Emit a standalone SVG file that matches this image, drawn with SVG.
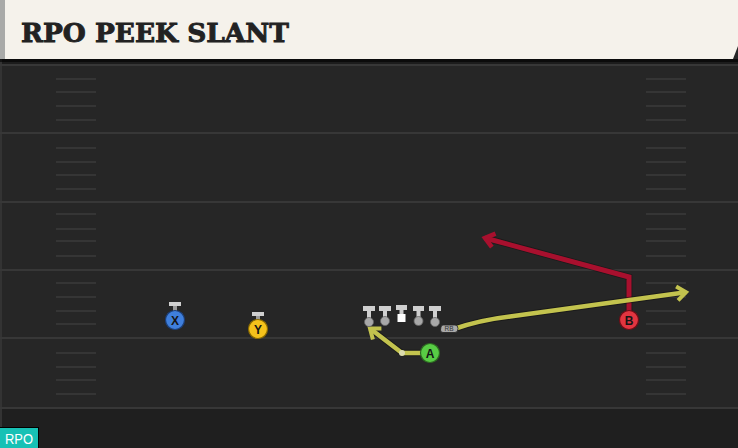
<svg xmlns="http://www.w3.org/2000/svg" width="738" height="448" viewBox="0 0 738 448">
<defs>
<style>
.yard{stroke:#373737;stroke-width:2}
.hash{stroke:#353535;stroke-width:2}
.ltr{font-family:"Liberation Sans",Arial,sans-serif;font-weight:bold;font-size:12px;fill:#151515;text-anchor:middle}
.bar{fill:#cfcfcf}
.lm{fill:#a8a8a8;stroke:#666;stroke-width:0.8}
.rt-y{fill:none;stroke:#c3c34e;stroke-width:4.5;stroke-linejoin:miter}
.rt-r{fill:none;stroke:#a8102e;stroke-width:5;stroke-linejoin:miter}
.under{fill:none;stroke:#111;stroke-width:6.5;opacity:0.55}
.title{font-family:"DejaVu Serif",serif;font-weight:bold;font-size:26px;fill:#222;stroke:#222;stroke-width:0.9}
</style>
<marker id="ay" markerUnits="userSpaceOnUse" viewBox="-14 -10 18 20" markerWidth="18" markerHeight="20" refX="0" refY="0" orient="auto">
<path d="M-9,-7 L0,0 L-9,7" fill="none" stroke="#c3c34e" stroke-width="4"/>
</marker>
<marker id="ar" markerUnits="userSpaceOnUse" viewBox="-14 -10 18 20" markerWidth="18" markerHeight="20" refX="0" refY="0" orient="auto">
<path d="M-9,-7 L0,0 L-9,7" fill="none" stroke="#a8102e" stroke-width="4.5"/>
</marker>
</defs>

<rect x="0" y="0" width="738" height="448" fill="#262626"/>
<rect x="0" y="59" width="738" height="6" fill="#1c1c1c"/>
<rect x="0" y="409" width="738" height="39" fill="#1f1f1f"/>
<rect x="0" y="59" width="2" height="389" fill="#333"/>

<g id="field">
<line class="yard" x1="0" y1="65" x2="738" y2="65"/>
<line class="yard" x1="0" y1="133" x2="738" y2="133"/>
<line class="yard" x1="0" y1="202" x2="738" y2="202"/>
<line class="yard" x1="0" y1="270" x2="738" y2="270"/>
<line class="yard" x1="0" y1="338" x2="738" y2="338"/>
<line class="yard" x1="0" y1="408" x2="738" y2="408"/>
<g id="hash-left">
<line class="hash" x1="56" y1="79" x2="96" y2="79"/><line class="hash" x1="56" y1="92" x2="96" y2="92"/>
<line class="hash" x1="56" y1="106" x2="96" y2="106"/><line class="hash" x1="56" y1="120" x2="96" y2="120"/>
<line class="hash" x1="56" y1="148" x2="96" y2="148"/><line class="hash" x1="56" y1="162" x2="96" y2="162"/>
<line class="hash" x1="56" y1="175" x2="96" y2="175"/><line class="hash" x1="56" y1="189" x2="96" y2="189"/>
<line class="hash" x1="56" y1="214" x2="96" y2="214"/><line class="hash" x1="56" y1="229" x2="96" y2="229"/>
<line class="hash" x1="56" y1="241" x2="96" y2="241"/><line class="hash" x1="56" y1="256" x2="96" y2="256"/>
<line class="hash" x1="56" y1="283" x2="96" y2="283"/><line class="hash" x1="56" y1="297" x2="96" y2="297"/>
<line class="hash" x1="56" y1="311" x2="96" y2="311"/><line class="hash" x1="56" y1="324" x2="96" y2="324"/>
<line class="hash" x1="56" y1="353" x2="96" y2="353"/><line class="hash" x1="56" y1="367" x2="96" y2="367"/>
<line class="hash" x1="56" y1="380" x2="96" y2="380"/><line class="hash" x1="56" y1="394" x2="96" y2="394"/>
</g>
<g id="hash-right">
<line class="hash" x1="646" y1="79" x2="686" y2="79"/><line class="hash" x1="646" y1="92" x2="686" y2="92"/>
<line class="hash" x1="646" y1="106" x2="686" y2="106"/><line class="hash" x1="646" y1="120" x2="686" y2="120"/>
<line class="hash" x1="646" y1="148" x2="686" y2="148"/><line class="hash" x1="646" y1="162" x2="686" y2="162"/>
<line class="hash" x1="646" y1="175" x2="686" y2="175"/><line class="hash" x1="646" y1="189" x2="686" y2="189"/>
<line class="hash" x1="646" y1="214" x2="686" y2="214"/><line class="hash" x1="646" y1="229" x2="686" y2="229"/>
<line class="hash" x1="646" y1="241" x2="686" y2="241"/><line class="hash" x1="646" y1="256" x2="686" y2="256"/>
<line class="hash" x1="646" y1="283" x2="686" y2="283"/><line class="hash" x1="646" y1="297" x2="686" y2="297"/>
<line class="hash" x1="646" y1="311" x2="686" y2="311"/><line class="hash" x1="646" y1="324" x2="686" y2="324"/>
<line class="hash" x1="646" y1="353" x2="686" y2="353"/><line class="hash" x1="646" y1="367" x2="686" y2="367"/>
<line class="hash" x1="646" y1="380" x2="686" y2="380"/><line class="hash" x1="646" y1="394" x2="686" y2="394"/>
</g>
</g>

<g id="header">
<rect x="0" y="59" width="738" height="3" fill="#000" opacity="0.6"/>
<polygon points="0,0 738,0 738,46 733,59 0,59" fill="#f5f2eb"/>
<rect x="0" y="0" width="5" height="59" fill="#a9aaa8"/>
<text class="title" x="21" y="42" textLength="268" lengthAdjust="spacingAndGlyphs">RPO PEEK SLANT</text>
</g>

<g id="connectors">
<path class="under" d="M629,311 L629,277 L487,238.5"/>
<path class="rt-r" d="M629,311 L629,277 L485,238" marker-end="url(#ar)"/>
<path class="under" d="M454,329 Q480,320 510,316.5 L684,292.5"/>
<path class="rt-y" d="M454,329 Q480,320 510,316.5 L686,292.3" marker-end="url(#ay)"/>
<path class="under" d="M421,353 L402,353 L372,330"/>
<path class="rt-y" d="M421,353 L402,353 L370,328.5" marker-end="url(#ay)"/>
<circle cx="402" cy="353" r="3" fill="#dcdcae"/>
</g>

<g id="node-X">
<rect class="bar" x="169" y="302" width="12" height="4"/>
<rect x="173" y="306" width="4" height="5" fill="#9a9a9a"/>
<circle cx="175" cy="320" r="9.5" fill="#3f7fdc" stroke="#1c3f78" stroke-width="1.2"/>
<text class="ltr" x="175" y="324.5">X</text>
</g>
<g id="node-Y">
<rect class="bar" x="252" y="312" width="12" height="4"/>
<rect x="256" y="316" width="4" height="4" fill="#9a9a9a"/>
<circle cx="258" cy="329" r="9.5" fill="#f5c21b" stroke="#8a6a00" stroke-width="1.2"/>
<text class="ltr" x="258" y="333.5">Y</text>
</g>

<g id="node-OL">
<g id="lt"><rect class="bar" x="363" y="306" width="12" height="5"/><rect class="bar" x="367" y="311" width="4" height="7"/><circle class="lm" cx="369" cy="322" r="4.5"/></g>
<g id="lg"><rect class="bar" x="379" y="306" width="12" height="5"/><rect class="bar" x="383" y="311" width="4" height="6"/><circle class="lm" cx="385" cy="321" r="4.5"/></g>
<g id="c"><rect class="bar" x="396" y="305" width="11" height="5"/><rect class="bar" x="399.5" y="310" width="4" height="5"/><rect x="397.5" y="314" width="8" height="8" fill="#fff"/></g>
<g id="rg"><rect class="bar" x="413" y="306" width="11" height="5"/><rect class="bar" x="416.5" y="311" width="4" height="6"/><circle class="lm" cx="418.5" cy="321" r="4.5"/></g>
<g id="rt"><rect class="bar" x="429" y="306" width="12" height="5"/><rect class="bar" x="433" y="311" width="4" height="7"/><circle class="lm" cx="435" cy="322" r="4.5"/></g>
</g>

<g id="node-RB">
<path d="M443,325 L455,325 Q458,325 458,328.5 Q458,332.5 455,332.5 L443,332.5 Q440.5,332.5 440.5,330 L441,327 Q441.5,325 443,325 Z" fill="#a9a9a9" stroke="#222" stroke-width="0.8"/>
<text x="449" y="331.3" font-family="'Liberation Sans',Arial,sans-serif" font-size="6.5" fill="#333" text-anchor="middle">RB</text>
</g>

<g id="node-A">
<circle cx="430" cy="353" r="9.5" fill="#58cc45" stroke="#2c6a20" stroke-width="1.2"/>
<text class="ltr" x="430" y="357.5">A</text>
</g>

<g id="node-B">
<circle cx="629" cy="320" r="9.5" fill="#e23540" stroke="#6e0d16" stroke-width="1.2"/>
<text class="ltr" x="629" y="324.5">B</text>
</g>

<g id="tag">
<rect x="0" y="427" width="39" height="21" fill="#000"/>
<rect x="0" y="428" width="38" height="20" fill="#17c1b5"/>
<text x="5" y="444" font-family="'Liberation Sans',Arial,sans-serif" font-size="14" fill="#fff" textLength="28" lengthAdjust="spacingAndGlyphs">RPO</text>
</g>
</svg>
